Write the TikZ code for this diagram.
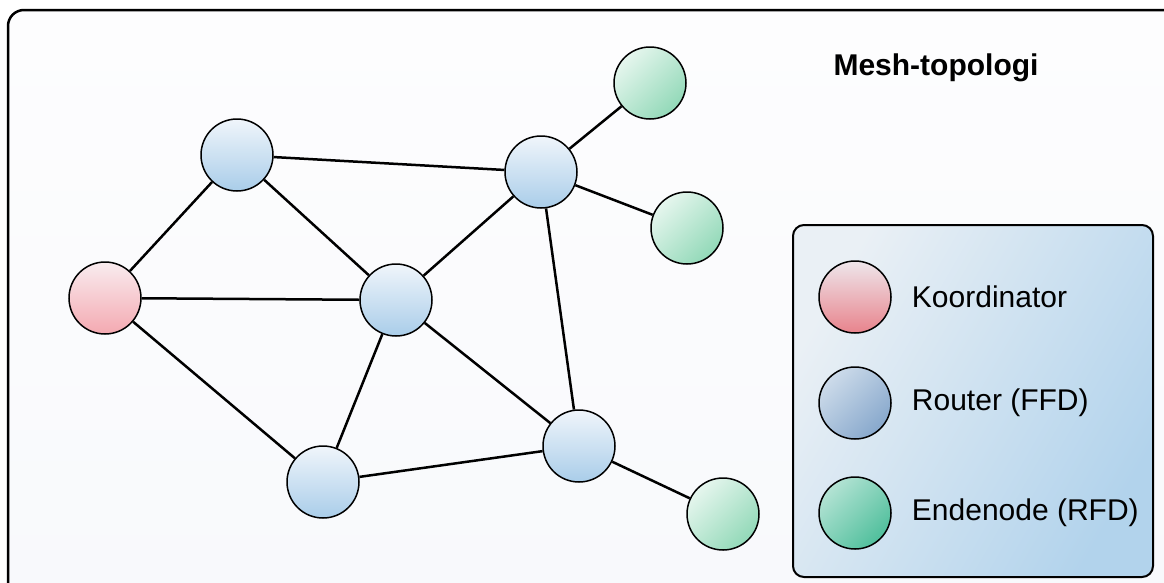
\documentclass[tikz,border=0pt]{standalone}
\usepackage{fontspec}
\setmainfont{Liberation Sans}
\usepackage{tikz}
\usetikzlibrary{positioning}
\definecolor{FrameFill}{HTML}{F8F9FC}
\definecolor{FrameLight}{HTML}{FDFDFE}
\definecolor{LegendLight}{HTML}{EAF0F5}
\definecolor{LegendBlue}{HTML}{B2D3EC}
\definecolor{RedTop}{HTML}{F9ECEF}
\definecolor{RedBottom}{HTML}{F4A9B1}
\definecolor{BlueTop}{HTML}{F0F5FB}
\definecolor{BlueBottom}{HTML}{A9CDE9}
\definecolor{GreenLight}{HTML}{E6F6EE}
\definecolor{GreenDark}{HTML}{92D9B8}
\definecolor{KeyRedTop}{HTML}{EEE6EB}
\definecolor{KeyRedBottom}{HTML}{E8838C}
\definecolor{KeyBlueLight}{HTML}{CDDBEA}
\definecolor{KeyBlueDark}{HTML}{87A8CC}
\definecolor{KeyGreenLight}{HTML}{B4E3D4}
\definecolor{KeyGreenDark}{HTML}{4FBF9C}

\begin{document}
\begin{tikzpicture}[
	x=1pt, y=-1pt,
	node distance=20pt,
	dev/.style={
		circle,
		draw=black,
		line width=1.5pt,
		minimum size=72pt,
		inner sep=0pt
	},
	coord/.style={dev, top color=RedTop, bottom color=RedBottom},
	router/.style={dev, top color=BlueTop, bottom color=BlueBottom},
	enddev/.style={dev, top color=GreenLight, bottom color=GreenDark, shading angle=45},
	link/.style={
		line width=2.5pt,
		draw=black
	},
	keytext/.style={
		font=\fontsize{30}{35}\selectfont,
		anchor=west,
		inner sep=0pt
	}
]

\useasboundingbox (0,0) rectangle (1164,582);

% frame
\draw[line width=2.5pt, rounded corners=16pt, top color=FrameLight, bottom color=FrameFill]
	(8,10) rectangle (1190,610);

\node[font=\fontsize{30}{35}\selectfont\bfseries] (title) at (936,68) {Mesh-topologi};

% network
\node[coord] (koord) at (105,298) {};
\node[router] (ra) at (237,155) {};
\node[router] (rb) at (541,172) {};
\node[router] (rc) at (396,300) {};
\node[router] (rd) at (323,482) {};
\node[router] (re) at (579,446) {};
\node[enddev] (ea) at (650,83) {};
\node[enddev] (eb) at (687,228) {};
\node[enddev] (ec) at (723,514) {};

\draw[link] (koord) -- (ra);
\draw[link] (koord) -- (rc);
\draw[link] (koord) -- (rd);
\draw[link] (ra) -- (rb);
\draw[link] (ra) -- (rc);
\draw[link] (rb) -- (rc);
\draw[link] (rb) -- (ea);
\draw[link] (rb) -- (eb);
\draw[link] (rb) -- (re);
\draw[link] (rc) -- (rd);
\draw[link] (rc) -- (re);
\draw[link] (rd) -- (re);
\draw[link] (re) -- (ec);

% legend
\draw[line width=2pt, rounded corners=11pt, top color=LegendLight, bottom color=LegendBlue, shading angle=60]
	(793,225) rectangle (1153,577);

\node[dev, top color=KeyRedTop, bottom color=KeyRedBottom] (keykoord) at (855,297) {};
\node[dev, top color=KeyBlueLight, bottom color=KeyBlueDark, shading angle=45] (keyrouter) at (855,403) {};
\node[dev, top color=KeyGreenLight, bottom color=KeyGreenDark, shading angle=45] (keyend) at (855,513) {};

\node[keytext, right=20pt of keykoord.east] (txtkoord) {Koordinator};
\node[keytext, right=20pt of keyrouter.east] (txtrouter) {Router (FFD)};
\node[keytext, right=20pt of keyend.east] (txtend) {Endenode (RFD)};

\end{tikzpicture}
\end{document}
